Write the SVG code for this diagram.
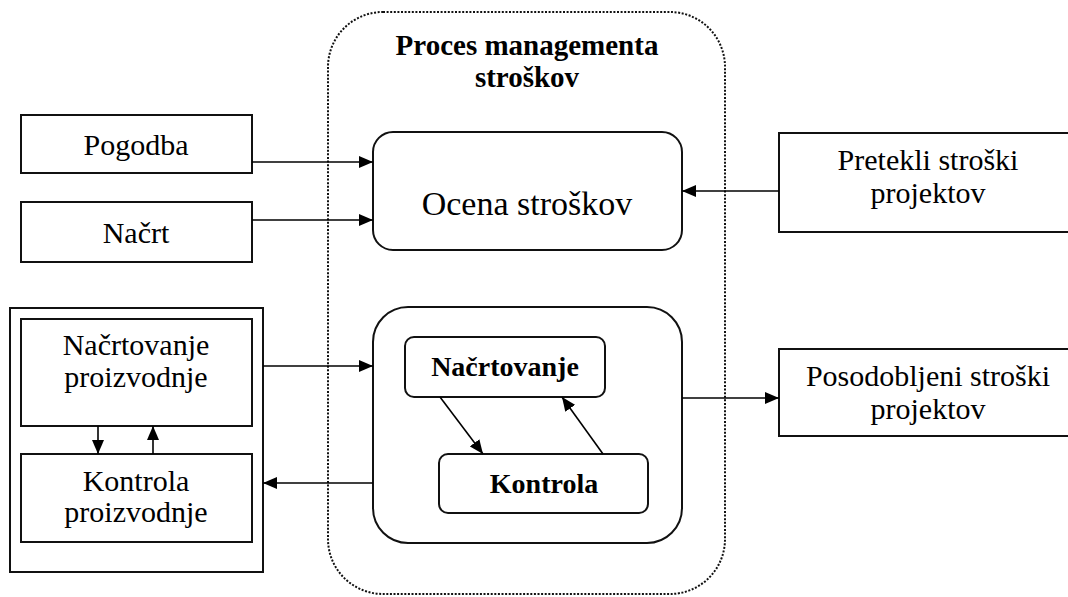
<svg xmlns="http://www.w3.org/2000/svg" width="1068" height="597" viewBox="0 0 1068 597">
<style>
.box{fill:#fff;stroke:#111;stroke-width:2}
.t{font-family:"Liberation Serif","Times New Roman",serif;font-size:30px;fill:#000;text-anchor:middle}
.b{font-family:"Liberation Serif","Times New Roman",serif;font-size:28px;font-weight:bold;fill:#000;text-anchor:middle}
.c{fill:none;stroke:#000;stroke-width:1.6;marker-end:url(#ah)}
</style>
<defs>
<marker id="ah" markerUnits="userSpaceOnUse" markerWidth="14" markerHeight="12" refX="14" refY="6" orient="auto">
<path d="M0,0 L14,6 L0,12 z" fill="#000"/>
</marker>
</defs>
<rect width="1068" height="597" fill="#fff"/>
<g id="container">
<rect x="328" y="12" width="397" height="582" rx="55" fill="none" stroke="#111" stroke-width="2" stroke-dasharray="2 1.6"/>
<text class="b" x="527" y="55" style="font-size:29px">Proces managementa</text>
<text class="b" x="527" y="87" style="font-size:29px">stroškov</text>
</g>
<g id="pogodba"><rect class="box" x="21" y="115" width="231" height="58"/><text class="t" x="136" y="155">Pogodba</text></g>
<g id="nacrt"><rect class="box" x="21" y="202" width="231" height="60"/><text class="t" x="136" y="243">Načrt</text></g>
<g id="ocena"><rect class="box" x="373" y="132" width="309" height="118" rx="20"/><text class="t" x="527" y="215" style="font-size:34px">Ocena stroškov</text></g>
<g id="pretekli"><rect class="box" x="779" y="133" width="310" height="99"/><text class="t" x="928" y="170">Pretekli stroški</text><text class="t" x="928" y="203">projektov</text></g>
<g id="proizvodnja"><rect class="box" x="10" y="308" width="253" height="264"/></g>
<g id="nacrtovanje-proizvodnje"><rect class="box" x="21" y="319" width="231" height="107"/><text class="t" x="136" y="355">Načrtovanje</text><text class="t" x="136" y="387">proizvodnje</text></g>
<g id="kontrola-proizvodnje"><rect class="box" x="21" y="454" width="231" height="88"/><text class="t" x="136" y="491">Kontrola</text><text class="t" x="136" y="522">proizvodnje</text></g>
<g id="kontrola-stroskov"><rect class="box" x="373" y="307" width="309" height="236" rx="35"/></g>
<g id="nacrtovanje"><rect class="box" x="405" y="337" width="200" height="60" rx="9"/><text class="b" x="505" y="376">Načrtovanje</text></g>
<g id="kontrola"><rect class="box" x="439" y="454" width="209" height="59" rx="9"/><text class="b" x="544" y="493">Kontrola</text></g>
<g id="posodobljeni"><rect class="box" x="779" y="349" width="310" height="87"/><text class="t" x="928" y="386">Posodobljeni stroški</text><text class="t" x="928" y="419">projektov</text></g>
<g id="connectors">
<line class="c" x1="252" y1="162" x2="373" y2="162"/>
<line class="c" x1="252" y1="220" x2="373" y2="220"/>
<line class="c" x1="779" y1="191" x2="682" y2="191"/>
<line class="c" x1="263" y1="366" x2="373" y2="366"/>
<line class="c" x1="373" y1="483" x2="263" y2="483"/>
<line class="c" x1="682" y1="398" x2="779" y2="398"/>
<line class="c" x1="98" y1="426" x2="98" y2="454"/>
<line class="c" x1="153" y1="454" x2="153" y2="426"/>
<line class="c" x1="440" y1="397" x2="483" y2="454"/>
<line class="c" x1="603" y1="454" x2="562" y2="397"/>
</g>
</svg>
